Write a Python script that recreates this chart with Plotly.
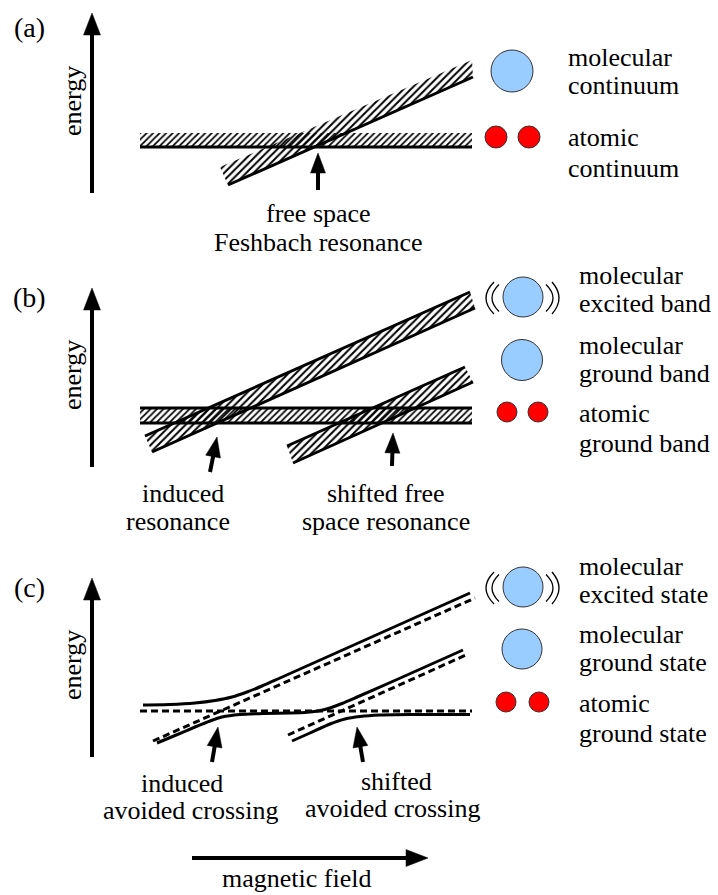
import math
import plotly.graph_objects as go

W, H = 718, 895
FONT = "Liberation Serif, Times New Roman, DejaVu Serif, serif"

# ---------------- schematic data (page units: x right, y down) ----------------
# Panel (a): hatched continua
a_atomic_band_x = [140, 472, 472, 140]
a_atomic_band_y = [147, 147, 133, 133]
a_atomic_line_x = [140, 472]
a_atomic_line_y = [147, 147]
a_mol_band_x = [228, 473, 472, 220]
a_mol_band_y = [185, 77, 60, 167]
a_mol_line_x = [228, 473]
a_mol_line_y = [185, 77]

# Panel (b): hatched bands
b_atomic_band_x = [140, 472, 472, 140]
b_atomic_band_y = [408, 408, 423, 423]
b_atomic_lines_y = [408, 423]
b_atomic_lines_x = [140, 472]
b_exc_band_x = [145, 470, 475, 152]
b_exc_band_y = [436, 292, 308, 452]
b_gnd_band_x = [287, 465, 473, 293]
b_gnd_band_y = [446, 367, 382, 463]

# Panel (c): diabatic (dashed) and adiabatic (solid) levels
c_dash_atomic_x = [140, 472]
c_dash_atomic_y = [711, 711]
c_dash_exc_x = [153, 475]
c_dash_exc_y = [741, 598]
c_dash_gnd_x = [288, 466]
c_dash_gnd_y = [735, 655]
c_top_x = [143, 170, 195, 215, 232, 247, 262, 280, 470]
c_top_y = [705, 704.5, 703, 700.5, 697, 692, 686, 678, 593]
c_mid_x = [157, 175, 195, 210, 222, 240, 265, 290, 305, 318, 330, 342, 356, 397, 463]
c_mid_y = [743, 735.5, 727, 721, 717, 714.5, 713.5, 713, 712.5, 711, 708, 703.5, 697.5, 679.5, 650]
c_bot_x = [292, 310, 330, 345, 360, 380, 410, 470]
c_bot_y = [741, 733, 724, 719, 716.5, 715, 714.5, 714.5]

# Arrows: (tail, tip)
energy_arrows = [((92, 193), (92, 13)), ((92, 467), (92, 288)), ((92, 757), (92, 578))]
field_arrow = ((192, 858), (428, 858))
pointer_arrows = [((318, 190), (318, 153)),
                  ((210, 472), (217, 437)), ((392, 466), (393, 433)),
                  ((212, 762), (218, 727)), ((363, 762), (357, 727))]

# Icons
mol_circles = [(512, 71, 21), (523, 297, 20), (522, 360, 20.5), (523, 587, 20), (522, 649, 20)]
excited_centers = [(523, 297), (523, 587)]
atom_dots = [(496, 137, 11), (529, 137, 11), (507, 412, 10), (538, 412, 10), (506, 702, 10), (539, 702, 10)]

# Texts: (text, x, y)
panel_labels = [("(a)", 29, 27), ("(b)", 29, 297), ("(c)", 29, 587)]
energy_label_y = [101, 375, 665]
right_texts = [
    ("molecular", 566, 57), ("continuum", 566, 85), ("atomic", 566, 137), ("continuum", 566, 168),
    ("molecular", 577, 275), ("excited band", 577, 303), ("molecular", 577, 345), ("ground band", 577, 373),
    ("atomic", 577, 413), ("ground band", 577, 443),
    ("molecular", 577, 566), ("excited state", 577, 594), ("molecular", 577, 634), ("ground state", 577, 662),
    ("atomic", 577, 703), ("ground state", 577, 733),
]
center_texts = [
    ("free space", 318, 213), ("Feshbach resonance", 318, 242),
    ("induced", 183, 493), ("resonance", 178, 521),
    ("shifted free", 386, 493), ("space resonance", 386, 521),
    ("induced", 182, 783), ("avoided crossing", 190, 810),
    ("shifted", 396, 781), ("avoided crossing", 392, 808),
    ("magnetic field", 296, 878),
]

# ---------------- figure ----------------
fig = go.Figure()


def hatch(xs, ys, size=5):
    fig.add_trace(go.Scatter(
        x=xs + xs[:1], y=ys + ys[:1], mode="lines", fill="toself",
        fillcolor="rgba(0,0,0,0)", line=dict(width=0, color="rgba(0,0,0,0)"),
        fillpattern=dict(shape="/", fgcolor="black", bgcolor="rgba(0,0,0,0)",
                         size=size, solidity=0.38, fillmode="replace"),
        hoverinfo="skip", showlegend=False))


def line(xs, ys, width=3, dash="solid", shape="linear"):
    fig.add_trace(go.Scatter(
        x=xs, y=ys, mode="lines",
        line=dict(color="black", width=width, dash=dash, shape=shape, smoothing=0.6),
        hoverinfo="skip", showlegend=False))


def arrow(tail, tip, head_len, head_w, width):
    dx, dy = tip[0] - tail[0], tip[1] - tail[1]
    L = math.hypot(dx, dy)
    ux, uy = dx / L, dy / L
    bx, by = tip[0] - ux * head_len, tip[1] - uy * head_len
    sx, sy = tip[0] - ux * head_len * 0.6, tip[1] - uy * head_len * 0.6
    line([tail[0], sx], [tail[1], sy], width=width)
    px, py = -uy, ux
    fig.add_trace(go.Scatter(
        x=[tip[0], bx + px * head_w / 2, bx - px * head_w / 2, tip[0]],
        y=[tip[1], by + py * head_w / 2, by - py * head_w / 2, tip[1]],
        mode="lines", fill="toself", fillcolor="black",
        line=dict(width=0.5, color="black"), hoverinfo="skip", showlegend=False))


# Panel (a)
hatch(a_atomic_band_x, a_atomic_band_y, size=4.6)
hatch(a_mol_band_x, a_mol_band_y, size=5.2)
line(a_atomic_line_x, a_atomic_line_y)
line(a_mol_line_x, a_mol_line_y)

# Panel (b)
hatch(b_atomic_band_x, b_atomic_band_y, size=4.6)
hatch(b_exc_band_x, b_exc_band_y, size=5.2)
hatch(b_gnd_band_x, b_gnd_band_y, size=5.2)
for yy in b_atomic_lines_y:
    line(b_atomic_lines_x, [yy, yy])
for bx_, by_ in [(b_exc_band_x, b_exc_band_y), (b_gnd_band_x, b_gnd_band_y)]:
    line(bx_[0:2], by_[0:2])
    line(bx_[2:4][::-1], by_[2:4][::-1])

# Panel (c)
line(c_dash_atomic_x, c_dash_atomic_y, width=3, dash="7px,4px")
line(c_dash_exc_x, c_dash_exc_y, width=3, dash="7px,4px")
line(c_dash_gnd_x, c_dash_gnd_y, width=3, dash="7px,4px")
line(c_top_x, c_top_y, width=3, shape="spline")
line(c_mid_x, c_mid_y, width=3, shape="spline")
line(c_bot_x, c_bot_y, width=3, shape="spline")

# Arrows
for t, p in energy_arrows:
    arrow(t, p, 22, 17, 4)
arrow(field_arrow[0], field_arrow[1], 22, 17, 4)
for t, p in pointer_arrows:
    arrow(t, p, 20, 15, 4)

# Icons
shapes = []
for cx, cy, r in mol_circles:
    shapes.append(dict(type="circle", xref="x", yref="y", x0=cx - r, x1=cx + r, y0=cy - r, y1=cy + r,
                       fillcolor="#99CCFF", line=dict(color="#333333", width=1)))
for cx, cy, r in atom_dots:
    shapes.append(dict(type="circle", xref="x", yref="y", x0=cx - r, x1=cx + r, y0=cy - r, y1=cy + r,
                       fillcolor="#FF0000", line=dict(color="#333333", width=1)))


def arc(x_end, x_mid, cy, half):
    cxp = 2 * x_mid - x_end
    return f"M {x_end},{cy - half} Q {cxp},{cy} {x_end},{cy + half}"


for ex, ey in excited_centers:
    for x_end, x_mid, half in [(-29, -37, 16), (-24, -31, 13.5), (23, 30, 13.5), (29, 36, 16)]:
        shapes.append(dict(type="path", xref="x", yref="y",
                           path=arc(ex + x_end, ex + x_mid, ey + 1, half),
                           line=dict(color="black", width=1.3)))

annotations = []
for txt, x, y in panel_labels:
    annotations.append(dict(text=txt, x=x, y=y, xref="x", yref="y", showarrow=False,
                            font=dict(family=FONT, size=28, color="black"), xanchor="center", yanchor="middle"))
for y in energy_label_y:
    annotations.append(dict(text="energy", x=72, y=y, xref="x", yref="y", showarrow=False, textangle=-90,
                            font=dict(family=FONT, size=26, color="black"), xanchor="center", yanchor="middle"))
for txt, x, y in right_texts:
    annotations.append(dict(text=txt, x=x, y=y, xref="x", yref="y", showarrow=False,
                            font=dict(family=FONT, size=26, color="black"), xanchor="left", yanchor="middle"))
for txt, x, y in center_texts:
    annotations.append(dict(text=txt, x=x, y=y, xref="x", yref="y", showarrow=False, borderpad=0,
                            font=dict(family=FONT, size=26, color="black"), xanchor="center", yanchor="middle"))

fig.update_layout(
    width=W, height=H, margin=dict(l=0, r=0, t=0, b=0),
    paper_bgcolor="white", plot_bgcolor="white",
    xaxis=dict(range=[0, W], visible=False, fixedrange=True),
    yaxis=dict(range=[H, 0], visible=False, fixedrange=True),
    shapes=shapes, annotations=annotations, showlegend=False,
)

fig.write_html("out.html", config={"displayModeBar": False})
